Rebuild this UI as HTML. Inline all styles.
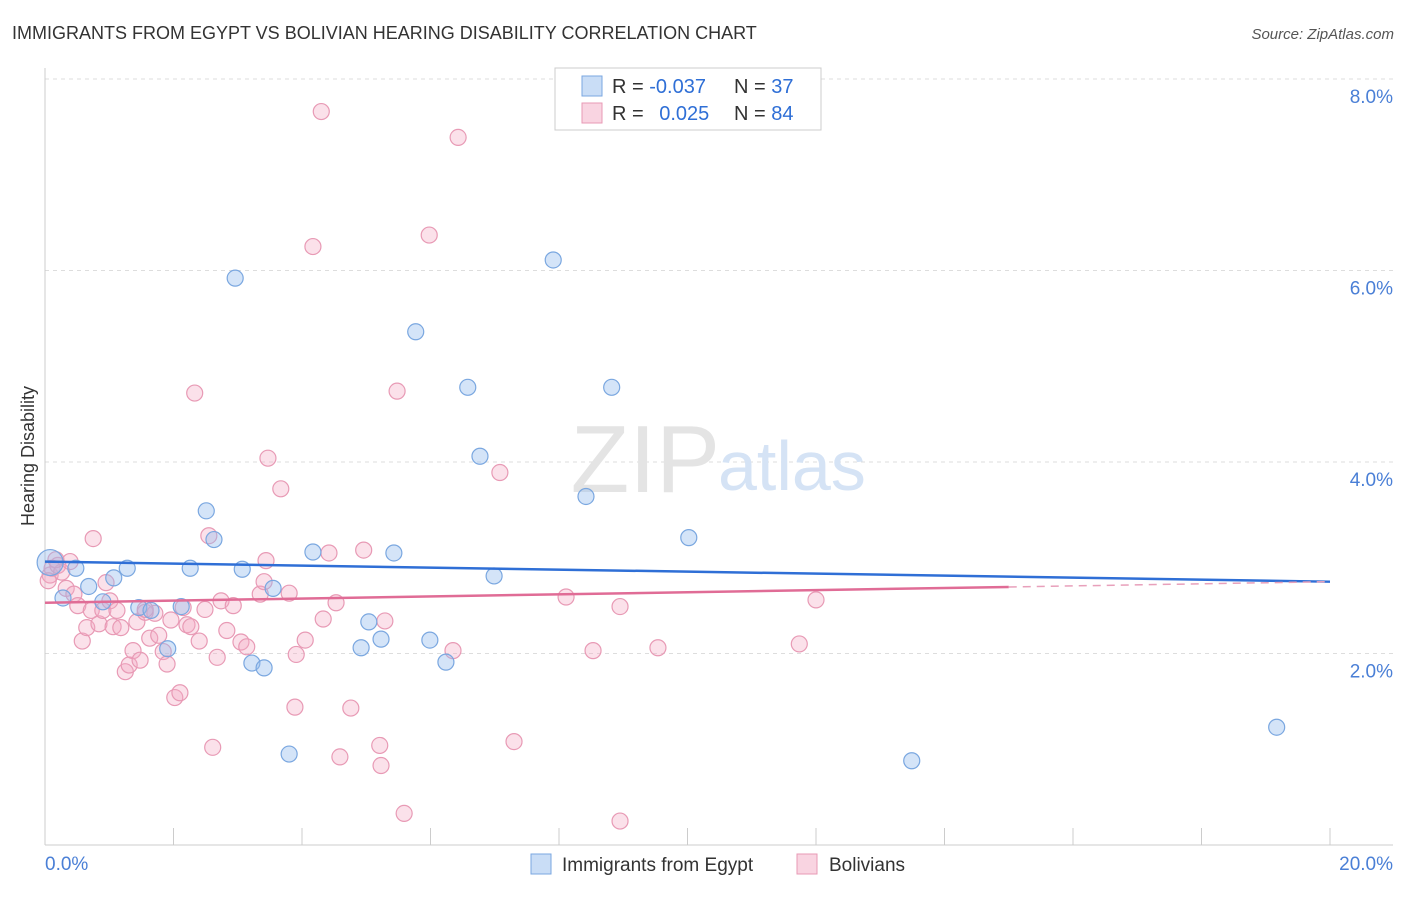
<!DOCTYPE html>
<html><head><meta charset="utf-8"><style>
body{margin:0;background:#fff;font-family:"Liberation Sans",sans-serif;}
svg text{font-family:"Liberation Sans",sans-serif;}
</style></head><body>
<svg id="chart" width="1406" height="892" viewBox="0 0 1406 892" xmlns="http://www.w3.org/2000/svg">
<text x="12" y="39" font-size="18" fill="#333">IMMIGRANTS FROM EGYPT VS BOLIVIAN HEARING DISABILITY CORRELATION CHART</text>
<text x="1394" y="39" font-size="15" fill="#555" font-style="italic" text-anchor="end">Source: ZipAtlas.com</text>
<text x="34" y="456" font-size="18" fill="#333" text-anchor="middle" transform="rotate(-90 34 456)">Hearing Disability</text>
<g id="grid"></g>
<g id="axes"></g>
<text x="720" y="492" font-size="96" fill="#e4e4e4" text-anchor="end" font-family="Liberation Serif">ZIP</text>
<text x="718" y="490" font-size="70" fill="#d5e3f5">atlas</text>
<g id="pts"></g>
<g id="trends"></g>
<g>
<rect x="555" y="68" width="266" height="62" fill="#fff" stroke="#ccc"/>
<rect x="582" y="76" width="20" height="20" fill="rgba(147,187,238,0.5)" stroke="#7aa7e0"/>
<rect x="582" y="103" width="20" height="20" fill="rgba(244,170,195,0.5)" stroke="#e89ab5"/>
<text x="612" y="93" font-size="20" fill="#333">R = <tspan fill="#2f6fd6">-0.037</tspan></text>
<text x="734" y="93" font-size="20" fill="#333">N = <tspan fill="#2f6fd6">37</tspan></text>
<text x="612" y="120" font-size="20" fill="#333">R = <tspan fill="#2f6fd6" dx="10">0.025</tspan></text>
<text x="734" y="120" font-size="20" fill="#333">N = <tspan fill="#2f6fd6">84</tspan></text>
</g>
<g>
<rect x="531" y="854" width="20" height="20" fill="rgba(147,187,238,0.5)" stroke="#7aa7e0"/>
<text x="562" y="871" font-size="19" fill="#333">Immigrants from Egypt</text>
<rect x="797" y="854" width="20" height="20" fill="rgba(244,170,195,0.5)" stroke="#e89ab5"/>
<text x="829" y="871" font-size="19" fill="#333">Bolivians</text>
</g>
</svg>
<script>
const yTicks=[2,4,6,8];
const yTickLabels=["2.0%","4.0%","6.0%","8.0%"];
const xTickLabels=["0.0%","20.0%"];
const egyptX=[0.08,0.28,0.48,0.68,0.90,1.07,1.28,1.46,1.65,1.91,2.12,2.26,2.51,2.63,2.96,3.07,3.22,3.41,3.55,3.80,4.17,4.92,5.04,5.23,5.43,5.77,5.99,6.24,6.58,6.77,6.99,7.91,8.42,8.82,10.02,13.49,19.17];
const egyptY=[2.95,2.58,2.89,2.70,2.54,2.79,2.89,2.48,2.45,2.05,2.49,2.89,3.49,3.19,5.92,2.88,1.90,1.85,2.68,0.95,3.06,2.06,2.33,2.15,3.05,5.36,2.14,1.91,4.78,4.06,2.81,6.11,3.64,4.78,3.21,0.88,1.23];
const bolX=[0.08,0.11,0.20,0.26,0.33,0.39,0.45,0.51,0.58,0.65,0.72,0.75,0.84,0.90,0.95,1.01,1.06,1.12,1.18,1.25,1.31,1.37,1.43,1.48,1.56,1.63,1.71,1.77,1.84,1.90,1.96,2.02,2.10,2.15,2.21,2.27,2.33,2.40,2.49,2.55,2.61,2.68,2.74,2.83,2.93,3.05,3.14,3.35,3.41,3.44,3.47,3.67,3.80,3.89,3.91,4.05,4.17,4.30,4.33,4.42,4.53,4.59,4.76,4.96,5.21,5.23,5.29,5.48,5.59,5.98,6.35,6.43,7.08,7.30,8.11,8.53,8.95,8.95,9.54,11.74,12.00,0.17,1.56,0.05];
const bolY=[2.82,2.89,2.92,2.85,2.68,2.96,2.62,2.50,2.13,2.27,2.45,3.20,2.31,2.45,2.74,2.55,2.28,2.45,2.27,1.81,1.88,2.03,2.33,1.93,2.43,2.16,2.42,2.19,2.02,1.89,2.35,1.54,1.59,2.48,2.30,2.28,4.72,2.13,2.46,3.23,1.02,1.96,2.55,2.24,2.50,2.12,2.07,2.62,2.75,2.97,4.04,3.72,2.63,1.44,1.99,2.14,6.25,7.66,2.36,3.05,2.53,0.92,1.43,3.08,1.04,0.83,2.34,4.74,0.33,6.37,2.03,7.39,3.89,1.08,2.59,2.03,2.49,0.25,2.06,2.10,2.56,2.98,2.46,2.76];
const egyptTrend=[2.96,2.75];
const bolTrend=[2.53,2.75];
const NS='http://www.w3.org/2000/svg';
function X(v){return 45+v/20*1285;}
function Y(v){return 845-v*95.75;}
function mk(t,a,p){const e=document.createElementNS(NS,t);for(const k in a)e.setAttribute(k,a[k]);p.appendChild(e);return e;}
const grid=document.getElementById('grid'),axes=document.getElementById('axes');
yTicks.forEach((t,i)=>{
 const l=mk('line',{x1:45,x2:1393,y1:Y(t),y2:Y(t),stroke:'#ddd','stroke-dasharray':'4,4'},grid);
 
 
 const tx=mk('text',{x:1393,y:Y(t)+24,'font-size':19,fill:'#4a7fd6','text-anchor':'end'},axes);
 tx.textContent=yTickLabels[i];
 
 
});
mk('line',{x1:45,x2:45,y1:68,y2:845,stroke:'#ccc'},axes);
mk('line',{x1:45,x2:1393,y1:845,y2:845,stroke:'#ccc'},axes);
for(let i=1;i<=10;i++){const t=mk('line',{x1:X(i*2),x2:X(i*2),y1:828,y2:845,stroke:'#ccc'},axes);
 
 }
[[0,'start',45],[20,'end',1393]].forEach((d,i)=>{const t=mk('text',{x:d[2],y:870,'font-size':19,fill:'#4a7fd6','text-anchor':d[1]},axes);t.textContent=xTickLabels[i];
 
 });
const pts=document.getElementById('pts');
bolX.forEach((x,i)=>{const c=mk('circle',{cx:X(x),cy:Y(bolY[i]),r:8,fill:'rgba(244,170,195,0.35)',stroke:'#e89ab5','stroke-width':1.2},pts);
 
 });
egyptX.forEach((x,i)=>{const c=mk('circle',{cx:X(x),cy:Y(egyptY[i]),r:i===0?13:8,fill:'rgba(147,187,238,0.4)',stroke:'#7aa7e0','stroke-width':1.2},pts);
 
 });
const tr=document.getElementById('trends');
const b=mk('line',{x1:X(0),y1:Y(egyptTrend[0]),x2:X(20),y2:Y(egyptTrend[1]),stroke:'#2f6fd6','stroke-width':2.5},tr);


const pm=bolTrend[0]+(bolTrend[1]-bolTrend[0])*0.75;
const p1=mk('line',{x1:X(0),y1:Y(bolTrend[0]),x2:X(15),y2:Y(pm),stroke:'#e06c96','stroke-width':2.5},tr);


const p2=mk('line',{x1:X(15),y1:Y(pm),x2:X(20),y2:Y(bolTrend[1]),stroke:'#e8a0bb','stroke-width':1.5,'stroke-dasharray':'8,6'},tr);


</script>
</body></html>
